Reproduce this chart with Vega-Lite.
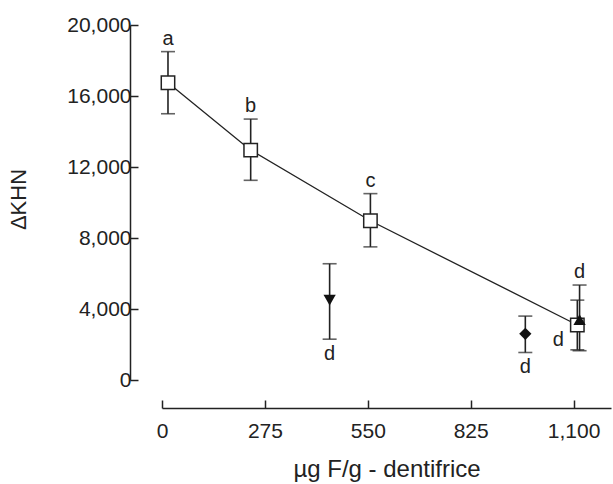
{
  "$schema": "https://vega.github.io/schema/vega-lite/v6.json",
  "width": 449,
  "height": 355,
  "autosize": {"type": "none"},
  "padding": {"left": 162, "top": 25, "right": 2, "bottom": 104},
  "background": "white",
  "config": {
    "view": {"stroke": null},
    "font": "Liberation Sans",
    "axis": {
      "domainColor": "#222",
      "tickColor": "#222",
      "labelColor": "#222",
      "titleColor": "#222",
      "labelFont": "Liberation Sans",
      "titleFont": "Liberation Sans",
      "titleFontWeight": "normal",
      "grid": false,
      "domainWidth": 1.5,
      "tickWidth": 1.5
    }
  },
  "data": {
    "values": [
      {"series": "F", "shape": "square", "x": 16, "y": 16750, "lo": 15000, "hi": 18500, "label": "a", "labelPos": "above"},
      {"series": "F", "shape": "square", "x": 237, "y": 12950, "lo": 11250, "hi": 14700, "label": "b", "labelPos": "above"},
      {"series": "F", "shape": "square", "x": 557, "y": 8970, "lo": 7500, "hi": 10500, "label": "c", "labelPos": "above"},
      {"series": "F", "shape": "square", "x": 1110, "y": 3100, "lo": 1700, "hi": 4500, "label": "d", "labelPos": "left"},
      {"series": "other", "shape": "triangle-down", "x": 448, "y": 4500, "lo": 2300, "hi": 6550, "label": "d", "labelPos": "below"},
      {"series": "other", "shape": "diamond", "x": 971, "y": 2600, "lo": 1550, "hi": 3600, "label": "d", "labelPos": "below"},
      {"series": "other", "shape": "triangle-up", "x": 1116, "y": 3400, "lo": 1650, "hi": 5350, "label": "d", "labelPos": "above"}
    ]
  },
  "encoding": {
    "x": {
      "field": "x", "type": "quantitative",
      "scale": {"domain": [0, 1200], "nice": false, "zero": false},
      "axis": {
        "title": "µg F/g - dentifrice",
        "titleFontSize": 24,
        "titlePadding": 16,
        "values": [0, 275, 550, 825, 1100],
        "format": ",d",
        "offset": 28,
        "tickSize": -8,
        "labelPadding": 20,
        "labelFontSize": 21,
        "labelFlush": false
      }
    },
    "y": {
      "field": "y", "type": "quantitative",
      "scale": {"domain": [0, 20000], "nice": false},
      "axis": {
        "title": "ΔKHN",
        "titleFontSize": 22,
        "titleBaseline": "middle",
        "titleAlign": "center",
        "titleAngle": -90,
        "titleX": -112,
        "titleY": 174,
        "values": [0, 4000, 8000, 12000, 16000, 20000],
        "format": ",d",
        "offset": 32,
        "tickSize": -8,
        "labelFontSize": 21,
        "labelPadding": 7
      }
    }
  },
  "layer": [
    {
      "transform": [{"filter": "datum.series == 'F'"}],
      "mark": {"type": "line", "color": "#222", "strokeWidth": 1.3},
      "encoding": {"x": {"field": "x", "type": "quantitative"}, "y": {"field": "y", "type": "quantitative"}}
    },
    {
      "mark": {"type": "rule", "color": "#222", "strokeWidth": 1.6},
      "encoding": {"y": {"field": "lo", "type": "quantitative"}, "y2": {"field": "hi"}}
    },
    {
      "mark": {"type": "tick", "orient": "horizontal", "color": "#222", "size": 14, "thickness": 1.6},
      "encoding": {"y": {"field": "lo", "type": "quantitative"}}
    },
    {
      "mark": {"type": "tick", "orient": "horizontal", "color": "#222", "size": 14, "thickness": 1.6},
      "encoding": {"y": {"field": "hi", "type": "quantitative"}}
    },
    {
      "transform": [{"filter": "datum.shape == 'square'"}],
      "mark": {"type": "point", "shape": "square", "filled": true, "fill": "white", "stroke": "#222", "strokeWidth": 1.5, "size": 180, "opacity": 1}
    },
    {
      "transform": [{"filter": "datum.shape != 'square'"}],
      "mark": {"type": "point", "filled": true, "color": "#111", "size": 150, "opacity": 1},
      "encoding": {"shape": {"field": "shape", "type": "nominal", "scale": null, "legend": null}}
    },
    {
      "transform": [{"filter": "datum.labelPos == 'above'"}],
      "mark": {"type": "text", "fontSize": 20, "color": "#222", "baseline": "bottom", "dy": -3},
      "encoding": {"y": {"field": "hi", "type": "quantitative"}, "text": {"field": "label"}}
    },
    {
      "transform": [{"filter": "datum.labelPos == 'below'"}],
      "mark": {"type": "text", "fontSize": 20, "color": "#222", "baseline": "top", "dy": 5},
      "encoding": {"y": {"field": "lo", "type": "quantitative"}, "text": {"field": "label"}}
    },
    {
      "transform": [{"filter": "datum.labelPos == 'left'"}],
      "mark": {"type": "text", "fontSize": 20, "color": "#222", "baseline": "middle", "dx": -19, "dy": 15},
      "encoding": {"text": {"field": "label"}}
    }
  ]
}
